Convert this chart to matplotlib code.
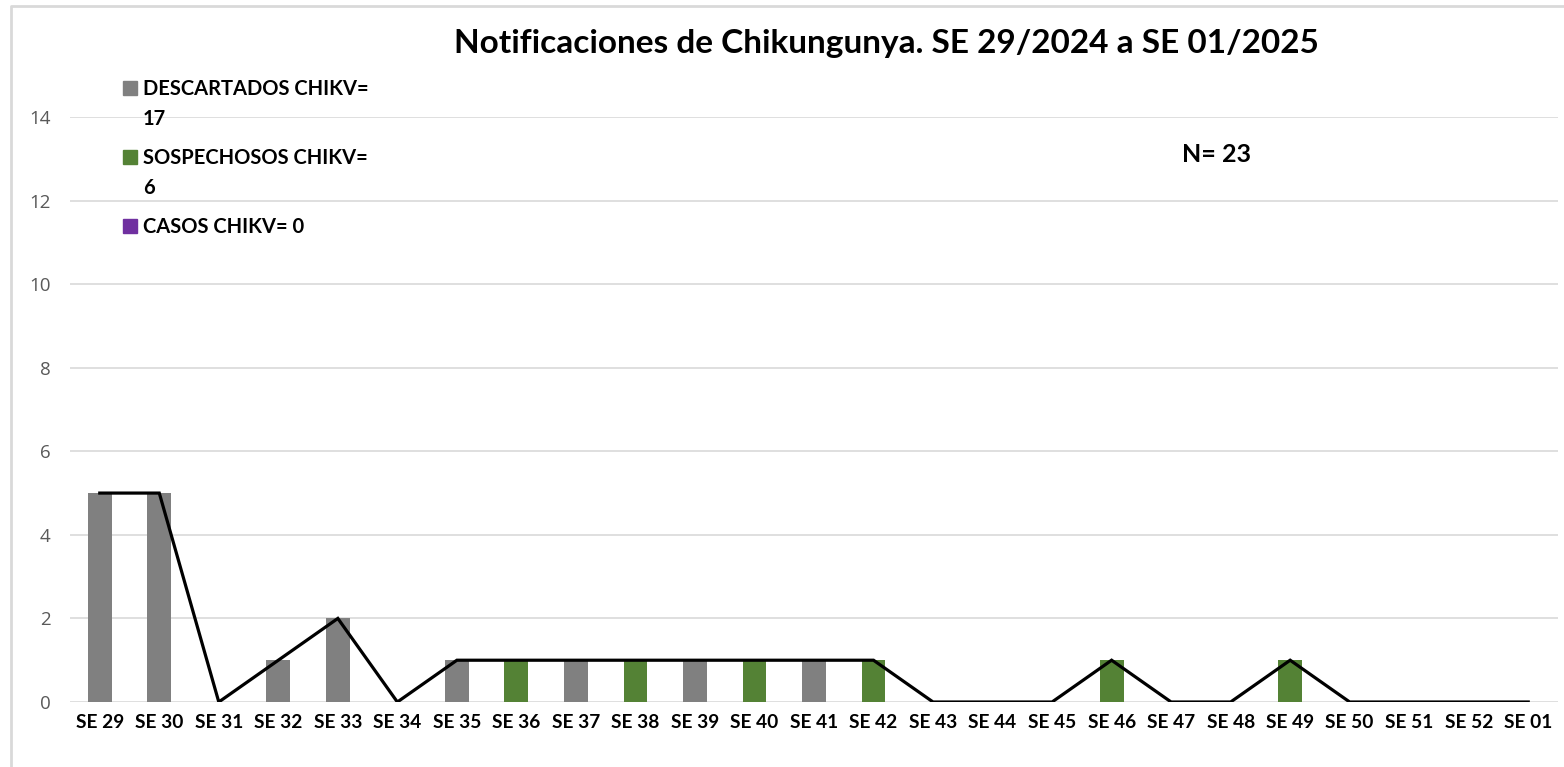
import matplotlib
matplotlib.use("Agg")
import matplotlib.pyplot as plt
from matplotlib.patches import Rectangle
from matplotlib.lines import Line2D
import numpy as np

plt.rcParams['font.family'] = ['Lato', 'DejaVu Sans']

weeks = ['SE 29', 'SE 30', 'SE 31', 'SE 32', 'SE 33', 'SE 34', 'SE 35', 'SE 36',
         'SE 37', 'SE 38', 'SE 39', 'SE 40', 'SE 41', 'SE 42', 'SE 43', 'SE 44',
         'SE 45', 'SE 46', 'SE 47', 'SE 48', 'SE 49', 'SE 50', 'SE 51', 'SE 52', 'SE 01']
descartados = [5, 5, 0, 1, 2, 0, 1, 0, 1, 0, 1, 0, 1, 0, 0, 0, 0, 0, 0, 0, 0, 0, 0, 0, 0]
sospechosos = [0, 0, 0, 0, 0, 0, 0, 1, 0, 1, 0, 1, 0, 1, 0, 0, 0, 1, 0, 0, 1, 0, 0, 0, 0]
casos = [0] * 25

labels = ['DESCARTADOS CHIKV=\n17', 'SOSPECHOSOS CHIKV=\n6', 'CASOS CHIKV= 0']
colors = ['#808080', '#548235', '#7030A0']

W, H = 1564, 767
fig = plt.figure(figsize=(W / 100, H / 100), dpi=100)
ax = fig.add_axes([70 / W, 1 - 702 / H, (1558 - 70) / W, (702 - 117) / H])

x = np.arange(len(weeks))
d = np.array(descartados)
s = np.array(sospechosos)
c = np.array(casos)
ax.bar(x, d, width=0.4, color=colors[0], zorder=2)
ax.bar(x, s, width=0.4, bottom=d, color=colors[1], zorder=2)
ax.bar(x, c, width=0.4, bottom=d + s, color=colors[2], zorder=2)
total = d + s + c
ax.plot(x, total, color='black', lw=2.3, zorder=3, solid_joinstyle='miter')

ax.set_xlim(-0.5, len(weeks) - 0.5)
ax.set_ylim(0, 14)
ax.set_yticks(range(0, 15, 2))
ax.set_yticklabels([str(v) for v in range(0, 15, 2)], family='Open Sans',
                   fontsize=13.5, color='#595959')
ax.set_xticks(x)
ax.set_xticklabels(weeks, fontsize=13.8, fontweight='bold')
ax.tick_params(axis='y', length=0, pad=14)
ax.tick_params(axis='x', length=0, pad=9)
ax.grid(axis='y', color='#d9d9d9', lw=1.2, zorder=0)
for sp in ax.spines.values():
    sp.set_visible(False)

fig.text(886 / W, 1 - 44 / H, 'Notificaciones de Chikungunya. SE 29/2024 a SE 01/2025',
         ha='center', va='center', fontsize=24, fontweight='bold')
fig.text(1216 / W, 1 - 154 / H, 'N= 23', ha='center', va='center',
         fontsize=18, fontweight='bold')

# legend (manual, first line aligned with marker)
leg_y = [88, 157, 226]
for lab, col, yy in zip(labels, colors, leg_y):
    fig.patches.append(Rectangle(((123) / W, 1 - (yy + 7) / H), 14 / W, 14 / H,
                                 transform=fig.transFigure, color=col))
    fig.text(143 / W, 1 - (yy - 9) / H, lab, ha='left', va='top',
             fontsize=14.5, fontweight='bold', linespacing=1.65)

# chart frame (top and left edge visible)
fig.add_artist(Line2D([11 / W, 11 / W, 1], [0, 1 - 6 / H, 1 - 6 / H],
                      transform=fig.transFigure, color='#d9d9d9', lw=2))

fig.savefig('out.png', dpi=100)
